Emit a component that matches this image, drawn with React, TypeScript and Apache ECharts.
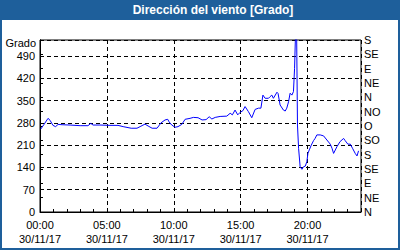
import React, { useEffect, useRef } from "react";
import * as echarts from "echarts";

// minutes since 00:00 on 30/11/17
const times = [
  3, 18, 36, 45, 58, 70, 81, 99, 135, 180, 215, 228, 238, 269, 314, 350,
  373, 409, 435, 449, 471, 485, 503, 525, 543, 561, 573, 579, 591, 606, 619, 636,
  651, 673, 688, 709, 727, 745, 759, 771, 786, 808, 838, 853, 863, 875, 887, 898,
  910, 920, 935, 950, 965, 980, 991, 1000, 1010, 1025, 1032, 1040, 1047, 1063, 1068, 1077,
  1092, 1100, 1107, 1115, 1122, 1130, 1137, 1142, 1147, 1151, 1155, 1160, 1167, 1175, 1182, 1190,
  1197, 1202, 1208, 1217, 1227, 1234, 1242, 1257, 1272, 1287, 1302, 1310, 1317, 1332, 1346, 1362,
  1369, 1381, 1392, 1402, 1414, 1422, 1429,
];
const degrees = [
  260, 275, 294, 288, 272, 268, 275, 274, 273, 271, 271, 278, 273, 273, 272, 272,
  268, 263, 263, 268, 276, 270, 263, 263, 280, 289, 291, 283, 273, 266, 268, 275,
  291, 294, 297, 296, 289, 290, 299, 292, 297, 300, 301, 310, 305, 320, 305, 313,
  318, 331, 315, 296, 322, 326, 326, 367, 357, 357, 362, 367, 357, 376, 372, 336,
  320, 317, 326, 346, 373, 367, 378, 451, 580, 580, 273, 200, 142, 134, 142, 144,
  158, 184, 195, 210, 224, 231, 242, 242, 239, 226, 213, 200, 184, 205, 221, 231,
  224, 213, 213, 200, 184, 176, 192,
];
const compass = ["N", "NE", "E", "SE", "S", "SO", "O", "NO", "N", "NE", "E", "SE", "S"];
const dateLabel = "30/11/17";
const title = "Dirección del viento [Grado]";
const unit = "Grado";

const FONT = "Liberation Sans";
const BLUE = "#1e5f9b";

export default function App() {
  const ref = useRef<HTMLDivElement>(null);
  useEffect(() => {
    if (!ref.current) return;
    const chart = echarts.init(ref.current, undefined, { renderer: "svg" });
    const data = times.map((t, i) => [t, degrees[i]]);
    const dashed = { color: "#000", width: 1, type: [4, 3] as any };
    chart.setOption({
      animation: false,
      backgroundColor: BLUE,
      textStyle: { fontFamily: FONT },
      graphic: [
        {
          type: "rect",
          z: -10,
          shape: { x: 2, y: 20, width: 396, height: 228 },
          style: { fill: "#fff" },
        },
        {
          type: "text",
          x: 213,
          y: 10,
          style: {
            text: title,
            fill: "#fff",
            font: `bold 12px "${FONT}"`,
            textAlign: "center",
            textVerticalAlign: "middle",
          },
        },
        {
          type: "text",
          x: 36,
          y: 43,
          style: {
            text: unit,
            fill: "#000",
            font: `11px "${FONT}"`,
            textAlign: "right",
            textVerticalAlign: "middle",
          },
        },
      ],
      grid: {
        left: 40,
        top: 40,
        right: 39,
        bottom: 38,
        show: true,
        borderColor: "#000",
        borderWidth: 1,
        backgroundColor: "#fff",
      },
      xAxis: [
        {
          type: "value",
          min: 0,
          max: 1440,
          interval: 60,
          axisLine: { show: true, lineStyle: { color: "#000" } },
          axisTick: { show: true, inside: true, length: 3, lineStyle: { color: "#000" } },
          axisLabel: {
            color: "#000",
            fontSize: 11,
            lineHeight: 14,
            margin: 6,
            fontFamily: FONT,
            formatter: (v: number) => {
              if (v % 300 !== 0 || v >= 1440) return "";
              const h = String(v / 60).padStart(2, "0");
              return `${h}:00\n${dateLabel}`;
            },
          },
          splitLine: { show: false },
        },
        {
          type: "value",
          min: 0,
          max: 1440,
          interval: 300,
          position: "bottom",
          axisLine: { show: false },
          axisTick: { show: false },
          axisLabel: { show: false },
          splitLine: { show: true, lineStyle: dashed },
        },
      ],
      yAxis: [
        {
          type: "value",
          min: 0,
          max: 540,
          interval: 70,
          position: "left",
          axisLine: { show: true, lineStyle: { color: "#000" } },
          axisTick: { show: false },
          axisLabel: {
            color: "#000",
            fontSize: 11,
            margin: 5,
            fontFamily: FONT,
            formatter: (v: number) => (v % 70 === 0 && v <= 490 ? String(v) : ""),
          },
          splitLine: { show: true, lineStyle: dashed },
        },
        {
          type: "value",
          min: 0,
          max: 540,
          interval: 45,
          position: "right",
          axisLine: { show: true, lineStyle: { color: "#000" } },
          axisTick: { show: true, length: 3, lineStyle: { color: "#000" } },
          axisLabel: {
            color: "#000",
            fontSize: 11,
            margin: 3,
            fontFamily: FONT,
            formatter: (v: number) => compass[Math.round(v / 45)] ?? "",
          },
          splitLine: { show: false },
        },
      ],
      series: [
        {
          type: "line",
          xAxisIndex: 0,
          yAxisIndex: 0,
          data,
          showSymbol: false,
          symbol: "none",
          clip: true,
          lineStyle: { color: "#0000ff", width: 1 },
        },
      ],
    });
    return () => chart.dispose();
  }, []);
  return (
    <div
      ref={ref}
      style={{ position: "absolute", left: 0, top: 0, width: 400, height: 250 }}
    />
  );
}
